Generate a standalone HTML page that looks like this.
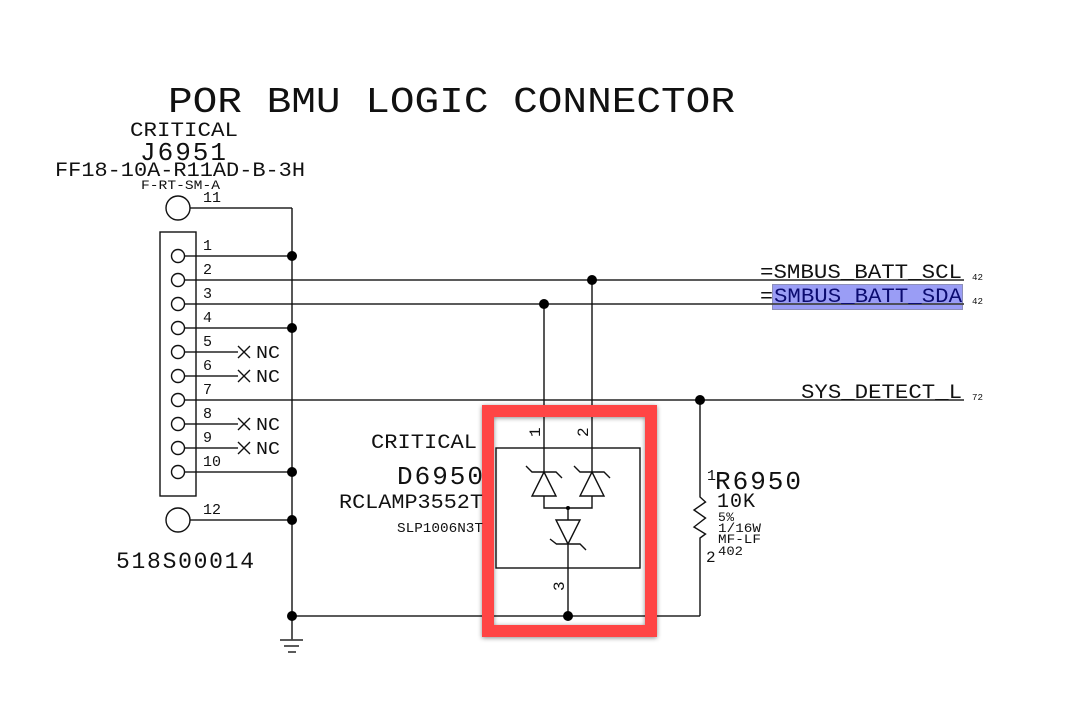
<!DOCTYPE html>
<html><head><meta charset="utf-8"><style>
html,body{margin:0;padding:0;background:#fff}
svg{display:block}
text{font-family:"Liberation Mono",monospace;fill:#111}
</style></head><body>
<svg xmlns="http://www.w3.org/2000/svg" width="1077" height="711" viewBox="0 0 1077 711">
<defs><filter id="s" x="-10%" y="-10%" width="120%" height="120%"><feDropShadow dx="0" dy="1" stdDeviation="2.5" flood-color="#000" flood-opacity="0.45"/></filter></defs>
<rect width="1077" height="711" fill="#fff"/>
<!-- highlight -->
<rect x="772.5" y="284.5" width="190" height="25" fill="#9a9df5" stroke="#8d8fb8" stroke-width="1"/>
<!-- horizontal wires -->
<g stroke="#444" stroke-width="1.8" fill="none">
<path d="M190 208H292M184 256H292M184 280H964M184 304H964M184 328H292M184 352H238M184 376H238M184 400H964M184 424H238M184 448H238M184 472H292M190 520H292M292 616H700"/>
</g>
<g stroke="#111" stroke-width="1.4" fill="none">
<path d="M292 208V640M544 304V448M592 280V448M700 400V497L705.500 502L694 510L705.500 518L694 527L705.500 534L700 538V616"/>
<rect x="160" y="232" width="36" height="264"/>
<circle cx="178" cy="208" r="12" fill="#fff"/>
<circle cx="178" cy="520" r="12" fill="#fff"/>
<circle cx="178" cy="256" r="6.500" fill="#fff"/><circle cx="178" cy="280" r="6.500" fill="#fff"/><circle cx="178" cy="304" r="6.500" fill="#fff"/><circle cx="178" cy="328" r="6.500" fill="#fff"/><circle cx="178" cy="352" r="6.500" fill="#fff"/><circle cx="178" cy="376" r="6.500" fill="#fff"/><circle cx="178" cy="400" r="6.500" fill="#fff"/><circle cx="178" cy="424" r="6.500" fill="#fff"/><circle cx="178" cy="448" r="6.500" fill="#fff"/><circle cx="178" cy="472" r="6.500" fill="#fff"/>
<path d="M238 346L250 358M238 358L250 346M238 370L250 382M238 382L250 370M238 418L250 430M238 430L250 418M238 442L250 454M238 454L250 442"/>
<!-- diode box -->
<rect x="496" y="448" width="144" height="120"/>
<path d="M544 448V472M592 448V472M544 496V508H592V496M568 508V520M568 544V616"/>
<path d="M544 472L556 496H532ZM592 472L604 496H580ZM568 544L556 520H580Z"/>
<path d="M526 466L532 472H556L562 478M574 466L580 472H604L610 478M550 539L556.500 544H580L586 550"/>
</g>
<g stroke="#444" stroke-width="1.800" fill="none"><path d="M280 640H303M284 646H299M288 652H296"/></g>
<!-- junctions -->
<g fill="#000">
<circle cx="292" cy="256" r="5"/><circle cx="292" cy="328" r="5"/><circle cx="292" cy="472" r="5"/><circle cx="292" cy="520" r="5"/><circle cx="292" cy="616" r="5"/>
<circle cx="544" cy="304" r="5"/><circle cx="592" cy="280" r="5"/><circle cx="700" cy="400" r="5"/><circle cx="568" cy="616" r="5"/><circle cx="568" cy="508" r="2"/>
</g>
<!-- red frame -->
<path filter="url(#s)" fill-rule="evenodd" fill="#ff4444" d="M482 405H657V637H482ZM494 417V625H645V417Z"/>
<!-- labels -->
<text x="168" y="112" font-size="36" textLength="567" lengthAdjust="spacingAndGlyphs">POR BMU LOGIC CONNECTOR</text>
<text x="130" y="136" font-size="20" textLength="108" lengthAdjust="spacingAndGlyphs">CRITICAL</text>
<text x="140" y="160" font-size="26" textLength="86" lengthAdjust="spacing">J6951</text>
<text x="55" y="176" font-size="20" textLength="250" lengthAdjust="spacingAndGlyphs">FF18-10A-R11AD-B-3H</text>
<text x="141" y="189" font-size="13" textLength="79" lengthAdjust="spacingAndGlyphs">F-RT-SM-A</text>
<g font-size="15">
<text x="203" y="202" textLength="18">11</text>
<text x="203" y="250">1</text><text x="203" y="274">2</text><text x="203" y="298">3</text><text x="203" y="322">4</text><text x="203" y="346">5</text><text x="203" y="370">6</text><text x="203" y="394">7</text><text x="203" y="418">8</text><text x="203" y="442">9</text>
<text x="203" y="466" textLength="18">10</text>
<text x="203" y="514" textLength="18">12</text>
</g>
<g font-size="18">
<text x="256" y="358" textLength="24" lengthAdjust="spacingAndGlyphs">NC</text>
<text x="256" y="382" textLength="24" lengthAdjust="spacingAndGlyphs">NC</text>
<text x="256" y="430" textLength="24" lengthAdjust="spacingAndGlyphs">NC</text>
<text x="256" y="454" textLength="24" lengthAdjust="spacingAndGlyphs">NC</text>
</g>
<text x="116" y="568" font-size="23" textLength="138" lengthAdjust="spacing">518S00014</text>
<text x="760" y="278" font-size="20" textLength="202" lengthAdjust="spacingAndGlyphs">=SMBUS_BATT_SCL</text>
<text x="760" y="302" font-size="20" textLength="13" lengthAdjust="spacingAndGlyphs">=</text>
<text x="774" y="302" font-size="20" textLength="188" lengthAdjust="spacingAndGlyphs" style="fill:#0b0b70">SMBUS_BATT_SDA</text>
<text x="801" y="398" font-size="20" textLength="161" lengthAdjust="spacingAndGlyphs">SYS_DETECT_L</text>
<g font-size="9.500"><text x="972" y="280" textLength="11" lengthAdjust="spacingAndGlyphs">42</text><text x="972" y="304" textLength="11" lengthAdjust="spacingAndGlyphs">42</text><text x="972" y="400" textLength="11" lengthAdjust="spacingAndGlyphs">72</text></g>
<text x="371" y="448" font-size="20" textLength="106" lengthAdjust="spacingAndGlyphs">CRITICAL</text>
<text x="397" y="484" font-size="26" textLength="86" lengthAdjust="spacing">D6950</text>
<text x="339" y="508" font-size="20" textLength="144" lengthAdjust="spacingAndGlyphs">RCLAMP3552T</text>
<text x="397" y="532" font-size="14" textLength="86" lengthAdjust="spacingAndGlyphs">SLP1006N3T</text>
<text transform="translate(540,437) rotate(-90)" font-size="16">1</text>
<text transform="translate(588,437) rotate(-90)" font-size="16">2</text>
<text transform="translate(564,591) rotate(-90)" font-size="16">3</text>
<text x="707" y="480" font-size="15">1</text>
<text x="715" y="489" font-size="26" textLength="86" lengthAdjust="spacing">R6950</text>
<text x="717" y="507" font-size="20" textLength="38" lengthAdjust="spacing">10K</text>
<text x="718" y="521" font-size="13" textLength="16">5%</text>
<text x="718" y="532" font-size="13" textLength="43" lengthAdjust="spacingAndGlyphs">1/16W</text>
<text x="718" y="543" font-size="13" textLength="43" lengthAdjust="spacingAndGlyphs">MF-LF</text>
<text x="718" y="555" font-size="13" textLength="25" lengthAdjust="spacingAndGlyphs">402</text>
<text x="706" y="562" font-size="16">2</text>
</svg>
</body></html>
